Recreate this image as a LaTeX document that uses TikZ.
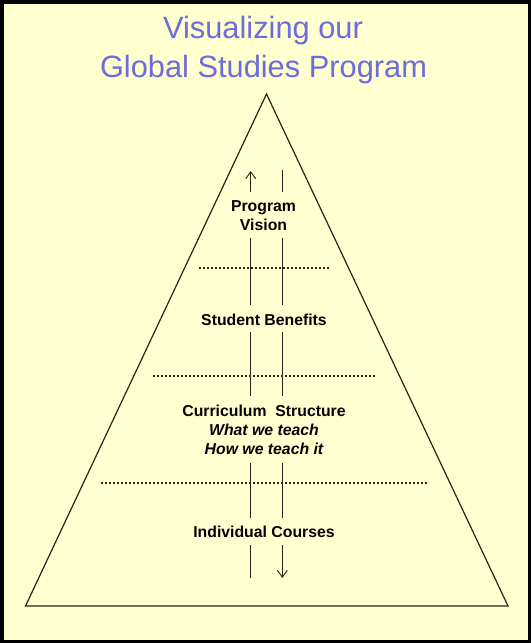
\documentclass[tikz,border=0pt]{standalone}
\usepackage{fontspec}
\setmainfont{Liberation Sans}
\usetikzlibrary{arrows.meta}
\definecolor{bgyellow}{RGB}{255,255,208}
\definecolor{titleblue}{RGB}{108,108,220}
\definecolor{inkline}{RGB}{40,36,20}
\tikzset{
  titletext/.style={font=\fontsize{30.8}{37}\selectfont, text=titleblue, anchor=base, inner sep=0pt},
  leveltext/.style={font=\fontsize{15.8}{19}\selectfont\bfseries, anchor=base, inner sep=0pt},
  levelital/.style={font=\fontsize{15.8}{19}\selectfont\bfseries\itshape, anchor=base, inner sep=0pt},
  divider/.style={draw=inkline, line width=1.8pt, dash pattern=on 1.8pt off 2.2pt},
  flowline/.style={draw=inkline, line width=0.9pt},
  uptip/.style={flowline, -{Straight Barb[length=7pt,width=10pt,line width=0.9pt]}},
  pyramid/.style={draw=inkline, line width=1.2pt, line join=miter},
}
\begin{document}
\begin{tikzpicture}[x=1pt,y=-1pt]
\useasboundingbox (0,0) rectangle (531,643);
\fill[bgyellow] (0,0) rectangle (531,643);
\draw[black, line width=3.5pt] (1.75,1.75) rectangle (529.25,641.25);

% title
\node[titletext] (t1) at (263,38) {Visualizing our};
\node[titletext] (t2) at (263.5,77) {Global Studies Program};

% pyramid
\coordinate (apex) at (266.5,94);
\coordinate (bl) at (25.5,606);
\coordinate (br) at (508,606);
\draw[pyramid] (apex) -- (br) -- (bl) -- cycle;

% dotted dividers
\coordinate (d1a) at (199,268);  \coordinate (d1b) at (329,268);
\coordinate (d2a) at (153,376);  \coordinate (d2b) at (375,376);
\coordinate (d3a) at (101,483);  \coordinate (d3b) at (428,483);
\draw[divider] (d1a) -- (d1b);
\draw[divider] (d2a) -- (d2b);
\draw[divider] (d3a) -- (d3b);

% level texts
\node[leveltext] (prog) at (263.5,211.7) {Program};
\node[leveltext] (vis) at (263.5,230.7) {Vision};
\node[leveltext] (stud) at (264,325.3) {Student Benefits};
\node[leveltext] (curr) at (264,416.7) {Curriculum\ \ Structure};
\node[levelital] (what) at (264,435.7) {What we teach};
\node[levelital] (how) at (264,454.3) {How we teach it};
\node[leveltext] (indiv) at (264,537.7) {Individual Courses};

% left line (upward)
\coordinate (L0) at (250.7,171); \coordinate (L1) at (250.7,192);
\coordinate (L2) at (250.7,238); \coordinate (L3) at (250.7,305);
\coordinate (L4) at (250.7,332); \coordinate (L5) at (250.7,396);
\coordinate (L6) at (250.7,463); \coordinate (L7) at (250.7,518);
\coordinate (L8) at (250.7,545); \coordinate (L9) at (250.7,578);
\draw[uptip] (L1) -- (L0);
\draw[flowline] (L2) -- (L3);
\draw[flowline] (L4) -- (L5);
\draw[flowline] (L6) -- (L7);
\draw[flowline] (L8) -- (L9);

% right line (downward)
\coordinate (R0) at (282.3,170); \coordinate (R1) at (282.3,192);
\coordinate (R2) at (282.3,238); \coordinate (R3) at (282.3,305);
\coordinate (R4) at (282.3,332); \coordinate (R5) at (282.3,396);
\coordinate (R6) at (282.3,463); \coordinate (R7) at (282.3,518);
\coordinate (R8) at (282.3,545); \coordinate (R9) at (282.3,578);
\draw[flowline] (R0) -- (R1);
\draw[flowline] (R2) -- (R3);
\draw[flowline] (R4) -- (R5);
\draw[flowline] (R6) -- (R7);
\draw[uptip] (R8) -- (R9);
\end{tikzpicture}
\end{document}
